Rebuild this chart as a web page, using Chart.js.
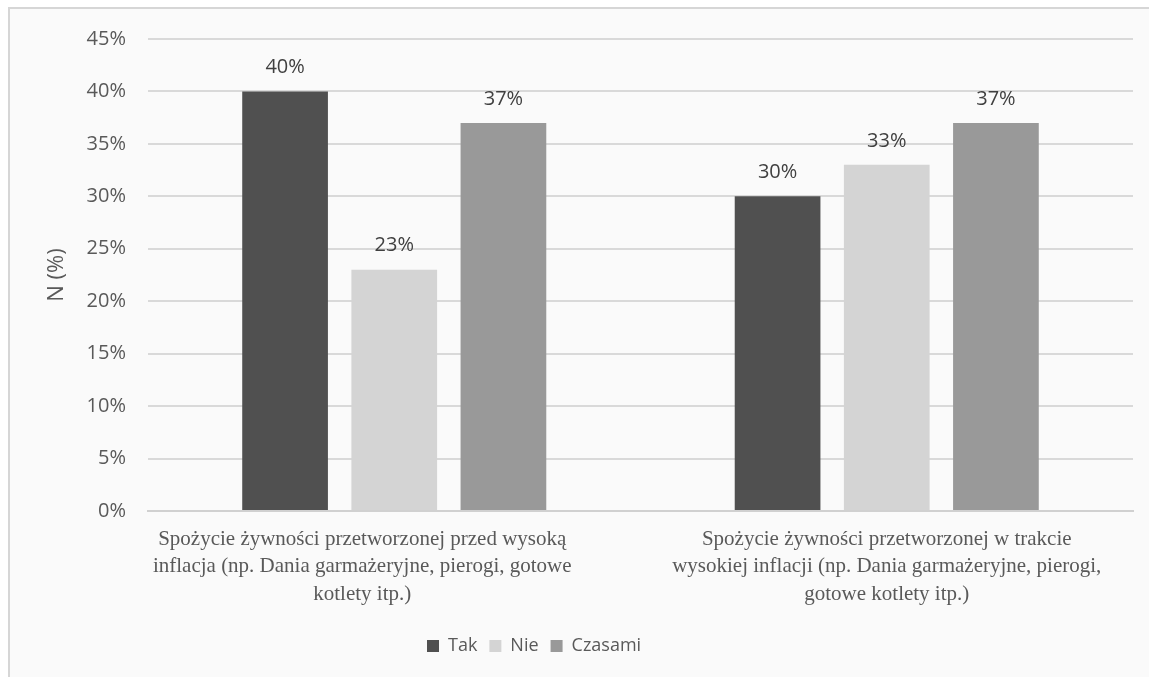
<!DOCTYPE html>
<html>
<head>
<meta charset="utf-8">
<script src="https://cdn.jsdelivr.net/npm/chart.js@4/dist/chart.umd.min.js"></script>
<style>
  html, body { margin: 0; padding: 0; background: #ffffff; }
  canvas { display: block; }
</style>
</head>
<body>
<canvas id="chart" width="1149" height="677"></canvas>
<script>
// Categories (multi-line axis labels)
const categories = [
  ["Spożycie żywności przetworzonej przed wysoką", "inflacja (np. Dania garmażeryjne, pierogi, gotowe", "kotlety itp.)"],
  ["Spożycie żywności przetworzonej w trakcie", "wysokiej inflacji (np. Dania garmażeryjne, pierogi,", "gotowe kotlety itp.)"]
];

// Series values (percent)
const seriesNames = ["Tak", "Nie", "Czasami"];
const takValues = [40, 30];
const nieValues = [23, 33];
const czasamiValues = [37, 37];

// Y axis ticks
const yMin = 0;
const yMax = 45;
const yStep = 5;
const yTitle = "N (%)";

const seriesColors = ["#505050", "#d4d4d4", "#999999"];

// Panel background with thin border
const panelPlugin = {
  id: 'panel',
  beforeDraw(chart) {
    const ctx = chart.ctx;
    ctx.save();
    ctx.fillStyle = '#ffffff';
    ctx.fillRect(0, 0, chart.width, chart.height);
    ctx.fillStyle = '#fafafa';
    ctx.fillRect(9, 8, chart.width + 20, chart.height + 20);
    ctx.strokeStyle = '#d6d6d6';
    ctx.lineWidth = 2;
    ctx.strokeRect(9, 8, chart.width + 20, chart.height + 20);
    ctx.restore();
  }
};

// Value labels above each bar
const valueLabels = {
  id: 'valueLabels',
  afterDatasetsDraw(chart) {
    const ctx = chart.ctx;
    ctx.save();
    ctx.font = '20px "Open Sans"';
    ctx.fillStyle = '#404040';
    ctx.textAlign = 'center';
    ctx.textBaseline = 'middle';
    chart.data.datasets.forEach((ds, i) => {
      const meta = chart.getDatasetMeta(i);
      meta.data.forEach((bar, j) => {
        ctx.fillText(ds.data[j] + '%', bar.x, bar.y - 24);
      });
    });
    ctx.restore();
  }
};

// Place the legend row and nudge the first category label left
const layoutTweaks = {
  id: 'layoutTweaks',
  afterLayout(chart) {
    const lg = chart.legend;
    if (lg) {
      const w = lg.right - lg.left;
      lg.left = 427 - 12;
      lg.right = lg.left + w;
    }
  },
  beforeDraw(chart) {
    const items = chart.scales.x.getLabelItems();
    if (items.length && !items[0]._shifted) {
      items[0].options.translation[0] -= 32;
      items[0]._shifted = true;
    }
  }
};

Chart.defaults.font.family = '"Open Sans", sans-serif';
Chart.defaults.color = '#595959';

new Chart(document.getElementById('chart'), {
  type: 'bar',
  data: {
    labels: categories,
    datasets: [
      { label: seriesNames[0], data: takValues, backgroundColor: seriesColors[0] },
      { label: seriesNames[1], data: nieValues, backgroundColor: seriesColors[1] },
      { label: seriesNames[2], data: czasamiValues, backgroundColor: seriesColors[2] }
    ]
  },
  options: {
    responsive: false,
    animation: false,
    devicePixelRatio: 1,
    categoryPercentage: 0.665,
    barPercentage: 0.785,
    layout: { padding: { left: 0, right: 16, top: 39, bottom: 12 } },
    plugins: {
      legend: {
        position: 'bottom',
        align: 'start',
        labels: {
          boxWidth: 12,
          boxHeight: 12,
          padding: 12,
          font: { size: 18 },
          color: '#595959'
        }
      },
      tooltip: { enabled: false }
    },
    scales: {
      x: {
        grid: { display: false, drawTicks: false },
        border: { display: true, color: '#d0d0d0', width: 2 },
        ticks: {
          autoSkip: false,
          maxRotation: 0,
          minRotation: 0,
          padding: 15,
          color: '#595959',
          font: { family: '"Liberation Serif", "Times New Roman", serif', size: 21, lineHeight: 1.3 }
        },
        afterFit(scale) { scale.height = 114; }
      },
      y: {
        min: yMin,
        max: yMax,
        ticks: {
          stepSize: yStep,
          padding: 22,
          color: '#595959',
          font: { size: 20 },
          callback: v => v + '%'
        },
        grid: { color: '#d9d9d9', lineWidth: 2, drawTicks: false },
        border: { display: false },
        title: {
          display: true,
          text: yTitle,
          color: '#595959',
          font: { size: 22 },
          padding: { top: 44, bottom: 0 }
        },
        afterFit(scale) { scale.width = 148; }
      }
    }
  },
  plugins: [panelPlugin, valueLabels, layoutTweaks]
});
</script>
</body>
</html>
